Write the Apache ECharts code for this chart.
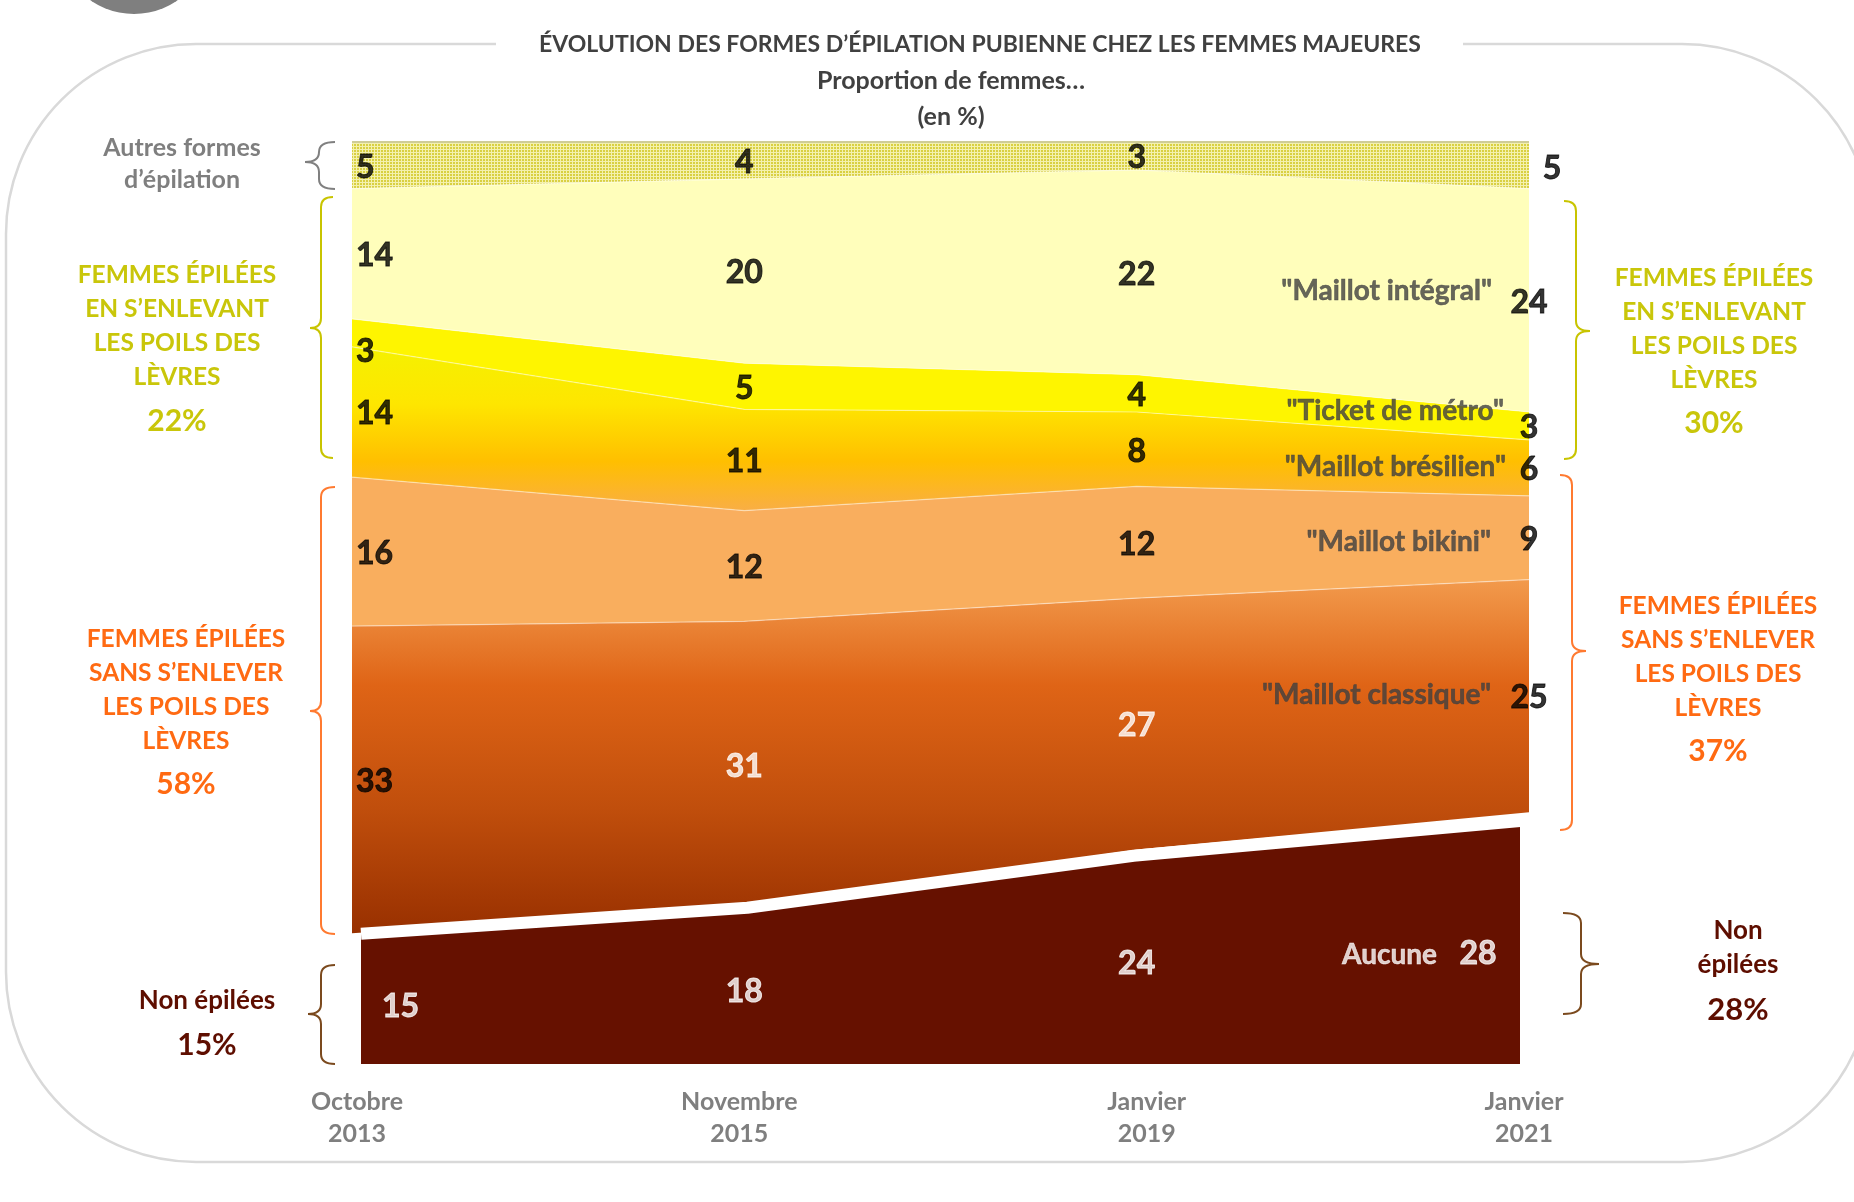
<!DOCTYPE html>
<html><head><meta charset="utf-8">
<script src="https://cdn.jsdelivr.net/npm/echarts@6/dist/echarts.min.js"></script>
<style>html,body{margin:0;padding:0;background:#fff}#c{width:1854px;height:1202px}</style>
</head><body><div id="c"></div>
<script>
// ---- data ----
const categories = ['Octobre\n2013', 'Novembre\n2015', 'Janvier\n2019', 'Janvier\n2021'];
const aucune     = [15, 18, 24, 28];
const classique  = [33, 31, 27, 25];
const bikini     = [16, 12, 12, 9];
const bresilien  = [14, 11, 8, 6];
const ticket     = [3, 5, 4, 3];
const integral   = [14, 20, 22, 24];
const autres     = [5, 4, 3, 5];
const seriesNames = ['Aucune', '"Maillot classique"', '"Maillot bikini"', '"Maillot brésilien"', '"Ticket de métro"', '"Maillot intégral"', 'Autres formes d’épilation'];
const groupTexts = {
  autres: 'Autres formes\nd’épilation',
  avec: 'FEMMES ÉPILÉES\nEN S’ENLEVANT\nLES POILS DES\nLÈVRES',
  sans: 'FEMMES ÉPILÉES\nSANS S’ENLEVER\nLES POILS DES\nLÈVRES',
  nonLeft: 'Non épilées',
  nonRight: 'Non\népilées'
};
const groupPctLeft  = ['22%', '58%', '15%'];
const groupPctRight = ['30%', '37%', '28%'];
const titleText = 'ÉVOLUTION DES FORMES D’ÉPILATION PUBIENNE CHEZ LES FEMMES MAJEURES';
const subTitle1 = 'Proportion de femmes…';
const subTitle2 = '(en %)';

const FONT = 'Lato, "Open Sans", sans-serif';
const allSeries = [aucune, classique, bikini, bresilien, ticket, integral, autres];
// 100 % stacked: each column scaled to its total
const totals = categories.map((c, j) => allSeries.reduce((s, a) => s + a[j], 0));
const pct = arr => arr.map((v, j) => v * 100 / totals[j]);

// pattern for "autres"
const pc = document.createElement('canvas');
pc.width = 3; pc.height = 3;
const pctx = pc.getContext('2d');
pctx.fillStyle = '#F4F1AE'; pctx.fillRect(0, 0, 3, 3);
pctx.fillStyle = '#D9D042'; pctx.fillRect(0, 0, 2, 2);

const G = echarts.graphic.LinearGradient;
const fills = [
  'rgba(0,0,0,0)',
  new G(0, 0, 0, 1, [{offset: 0, color: '#F29A4C'}, {offset: 0.3, color: '#DF6416'}, {offset: 0.65, color: '#C04E0C'}, {offset: 1, color: '#983000'}]),
  '#F9AE5E',
  new G(0, 0, 0, 1, [{offset: 0, color: '#F5F100'}, {offset: 0.35, color: '#FEE600'}, {offset: 0.7, color: '#FFBF00'}, {offset: 1, color: '#F9AE45'}]),
  '#FEF500',
  '#FFFEBB',
  {image: pc, repeat: 'repeat'}
];

const series = [];
allSeries.forEach((arr, i) => {
  series.push({
    name: seriesNames[i], type: 'line', stack: 'total', data: pct(arr),
    xAxisIndex: 0, yAxisIndex: 0, symbol: 'none', silent: true,
    lineStyle: i === 6 ? {width: 2, color: '#CFCC98'} : {width: i === 0 ? 0 : 1.2, color: 'rgba(255,255,255,0.45)'},
    areaStyle: {color: fills[i], opacity: 1}
  });
});
// exploded "Aucune" area on inset grid
series.push({
  name: 'Aucune (forme)', type: 'line', data: aucune, xAxisIndex: 1, yAxisIndex: 1,
  symbol: 'none', silent: true,
  lineStyle: {width: 12, color: '#FFFFFF'},
  areaStyle: {color: '#661100', opacity: 1}
});

// value labels at centre of each band
const valueLabels = [];
const nameLabels = [];
const nameOffsets = [[-92, 12], [-38, -1], [-38, 4], [-23, -1], [-25, -15], [-37, -9]];
for (let j = 0; j < categories.length; j++) {
  let base = 0;
  allSeries.forEach((arr, i) => {
    const v = arr[j];
    const pv = v * 100 / totals[j];
    const mid = base + pv / 2;
    base += pv;
    const white = (i === 0) || (i === 1 && (j === 1 || j === 2));
    let align = 'center', off = [0, 2];
    if (j === 0) {
      align = 'left';
      off = i === 0 ? [30, 4] : [4, 2];
      if (i === 4) off = [4, 19];
    }
    if (j === 3) {
      if (i === 6) off = [23, 3];
      if (i === 0) off = [-51, 11];
    }
    const col = white ? '#FFFFFF' : '#000000';
    valueLabels.push({
      value: [j, mid, v],
      label: {align: align, offset: off, color: col, textBorderColor: col, textBorderWidth: 0.9}
    });
    if (j === categories.length - 1 && i < 6) {
      const nc = i === 0 ? '#FFFFFF' : '#404040';
      nameLabels.push({
        value: [j, mid, seriesNames[i]],
        label: {offset: nameOffsets[i], color: nc, textBorderColor: nc, textBorderWidth: 0.5}
      });
    }
  });
}
series.push({
  type: 'scatter', data: valueLabels, symbolSize: 0, silent: true, z: 10,
  xAxisIndex: 0, yAxisIndex: 0,
  label: {show: true, position: 'inside', formatter: p => String(p.value[2]),
    fontFamily: FONT, fontWeight: 'bold', fontSize: 32}
});
series.push({
  type: 'scatter', data: nameLabels, symbolSize: 0, silent: true, z: 10,
  xAxisIndex: 0, yAxisIndex: 0,
  label: {show: true, position: 'inside', align: 'right', formatter: p => p.value[2],
    fontFamily: FONT, fontWeight: 'bold', fontSize: 28}
});

// curly brace built from lines and quadratic curves
function brace(vx, tx, ex, y1, y2, ym, color) {
  const r = 10;
  const st = {stroke: color, lineWidth: 2, fill: null};
  const mk = (type, shape) => ({type: type, z: 5, silent: true, shape: shape, style: st});
  return [
    mk('bezierCurve', {x1: ex, y1: y1, cpx1: vx, cpy1: y1, x2: vx, y2: y1 + r}),
    mk('line', {x1: vx, y1: y1 + r, x2: vx, y2: ym - r}),
    mk('bezierCurve', {x1: vx, y1: ym - r, cpx1: vx, cpy1: ym, x2: tx, y2: ym}),
    mk('bezierCurve', {x1: tx, y1: ym, cpx1: vx, cpy1: ym, x2: vx, y2: ym + r}),
    mk('line', {x1: vx, y1: ym + r, x2: vx, y2: y2 - r}),
    mk('bezierCurve', {x1: vx, y1: y2 - r, cpx1: vx, cpy1: y2, x2: ex, y2: y2})
  ];
}
function txt(text, x, y, size, color, lh) {
  return {type: 'text', z: 5, silent: true,
    style: {text: text, x: x, y: y, fill: color, align: 'center', verticalAlign: 'middle',
      font: `bold ${size}px ${FONT}`, lineHeight: lh || size * 1.3}};
}

const YEL = '#C9C60A', ORA = '#FF6A12', MAR = '#5E0E00', GRY = '#7F7F7F';

const graphic = [
  {type: 'circle', z: -10, silent: true, shape: {cx: 134, cy: -62, r: 76}, style: {fill: '#7F7F7F'}},
  {type: 'rect', z: -10, silent: true, shape: {x: 6, y: 44, width: 1866, height: 1118, r: 190},
    style: {fill: null, stroke: '#D9D9D9', lineWidth: 2.5}},
  {type: 'rect', z: -9, silent: true, shape: {x: 496, y: 30, width: 967, height: 30}, style: {fill: '#FFFFFF'}},
  txt(titleText, 980, 45, 23, '#404040'),
  txt(subTitle1, 951, 81, 25, '#404040'),
  txt(subTitle2, 951, 117, 25, '#404040'),
  // left side
  txt(groupTexts.autres, 182, 164, 25, GRY, 32),
  ...brace(319, 305, 335, 142, 189, 162, '#808080'),
  txt(groupTexts.avec, 177, 326, 24.5, YEL, 34),
  txt(groupPctLeft[0], 177, 421, 30, YEL),
  ...brace(321, 310, 333, 197, 458, 328, '#C8C400'),
  txt(groupTexts.sans, 186, 690, 24.5, ORA, 34),
  txt(groupPctLeft[1], 186, 784, 30, ORA),
  ...brace(321, 310, 335, 487, 934, 711, '#FF7A30'),
  txt(groupTexts.nonLeft, 207, 1001, 26, MAR),
  txt(groupPctLeft[2], 207, 1045, 30, MAR),
  ...brace(321, 308, 335, 965, 1064, 1014, '#7B4A1E'),
  // right side
  ...brace(1576, 1590, 1564, 201, 459, 331, '#C8C400'),
  txt(groupTexts.avec, 1714, 329, 24.5, YEL, 34),
  txt(groupPctRight[0], 1714, 423, 30, YEL),
  ...brace(1572, 1586, 1560, 475, 830, 651, '#FF7A30'),
  txt(groupTexts.sans, 1718, 657, 24.5, ORA, 34),
  txt(groupPctRight[1], 1718, 751, 30, ORA),
  ...brace(1581, 1599, 1563, 913, 1014, 964, '#7B4A1E'),
  txt(groupTexts.nonRight, 1738, 948, 26, MAR, 34),
  txt(groupPctRight[2], 1738, 1010, 31, MAR)
];

// small horizontal nudges of the axis labels (style only)
const labelRich = {
  p0: {padding: [0, 0, 0, 10]},
  p1: {padding: [0, 10, 0, 0]},
  p2: {padding: [0, 0, 0, 20]},
  p3: {padding: [0, 10, 0, 0]}
};
Object.keys(labelRich).forEach(k => Object.assign(labelRich[k], {
  color: '#7F7F7F', fontFamily: FONT, fontWeight: 'bold', fontSize: 25, lineHeight: 32
}));

const chart = echarts.init(document.getElementById('c'), null, {renderer: 'canvas'});
chart.setOption({
  animation: false,
  backgroundColor: '#FFFFFF',
  grid: [
    {left: 352, right: 325, top: 142, bottom: 129},
    {left: 361, right: 334, top: 196, bottom: 138}
  ],
  xAxis: [
    {type: 'category', gridIndex: 0, data: categories, boundaryGap: false,
      axisLine: {show: false}, axisTick: {show: false}, splitLine: {show: false},
      axisLabel: {color: '#7F7F7F', fontFamily: FONT, fontWeight: 'bold', fontSize: 25, lineHeight: 32, margin: 13,
        formatter: (val, idx) => val.split('\n').map(s => `{p${idx}|${s}}`).join('\n'),
        rich: labelRich}},
    {type: 'category', gridIndex: 1, data: categories, boundaryGap: false, show: false}
  ],
  yAxis: [
    {type: 'value', gridIndex: 0, min: 0, max: 100, interval: 10, show: false, splitLine: {show: false}},
    {type: 'value', gridIndex: 1, min: 0, max: 100, interval: 10, show: false, splitLine: {show: false}}
  ],
  series: series,
  graphic: graphic
});
</script>
</body></html>
